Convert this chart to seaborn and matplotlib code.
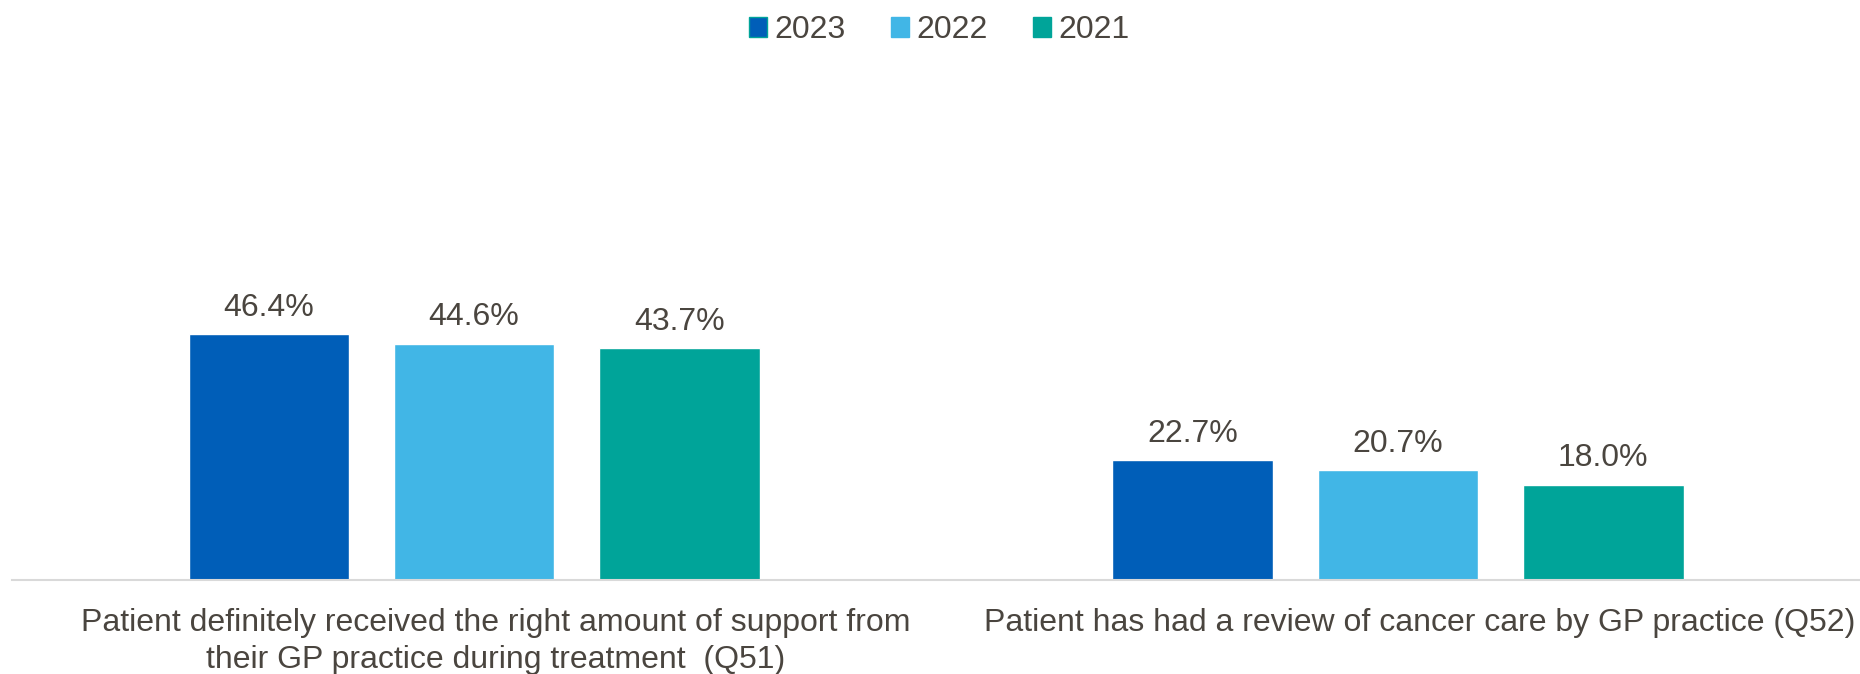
import matplotlib
matplotlib.use("Agg")
import matplotlib.pyplot as plt
import matplotlib.transforms as mtransforms
import seaborn as sns
import pandas as pd
from matplotlib.patches import Patch

# Survey questions and the share of patients answering positively, by year
categories = [
    "Patient definitely received the right amount of support from\ntheir GP practice during treatment  (Q51)",
    "Patient has had a review of cancer care by GP practice (Q52)",
]
years = ["2023", "2022", "2021"]
values_2023 = [46.4, 22.7]
values_2022 = [44.6, 20.7]
values_2021 = [43.7, 18.0]

colors = ["#005EB8", "#41B6E6", "#00A499"]
text_color = "#4A453F"
font_size = 23

rows = []
for year, vals in zip(years, [values_2023, values_2022, values_2021]):
    for cat, v in zip(categories, vals):
        rows.append({"category": cat, "year": year, "value": v})
df = pd.DataFrame(rows)

sns.set_theme(style="white")
plt.rcParams["font.family"] = ["Liberation Sans", "DejaVu Sans"]

fig = plt.figure(figsize=(18.6, 6.74), dpi=100)
ax = fig.add_axes([0.0065, 0.1395, 0.9935, 0.7865])

sns.barplot(
    data=df, x="category", y="value", hue="year",
    order=categories, hue_order=years, palette=colors,
    width=0.666, gap=0.216, saturation=1, legend=False, ax=ax,
)

for container in ax.containers:
    ax.bar_label(container, labels=[f"{v:.1f}%" for v in container.datavalues],
                 padding=8, fontsize=font_size, color=text_color)

ax.set_xlim(-0.5, 1.5)
ax.set_ylim(0, 100)
ax.set_xlabel("")
ax.set_ylabel("")
ax.set_yticks([])
ax.tick_params(axis="x", length=0, pad=20, labelsize=font_size, labelcolor=text_color)
shift = mtransforms.ScaledTranslation(22 / 100, 0, fig.dpi_scale_trans)
for lbl in ax.get_xticklabels():
    lbl.set_linespacing(1.33)
    lbl.set_transform(lbl.get_transform() + shift)

for side in ["left", "right", "top"]:
    ax.spines[side].set_visible(False)
ax.spines["bottom"].set_color("#D9D9D9")
ax.spines["bottom"].set_linewidth(1.5)

handles = [Patch(facecolor=c, edgecolor=c, label=y) for c, y in zip(colors, years)]
handles[0].set_edgecolor("#00A499")
fig.legend(
    handles=handles, loc="upper center", bbox_to_anchor=(0.505, 1.02),
    ncol=3, frameon=False, fontsize=font_size, labelcolor=text_color,
    handlelength=0.56, handleheight=0.56, handletextpad=0.22, columnspacing=1.44,
)

fig.savefig("out.png", dpi=100)
